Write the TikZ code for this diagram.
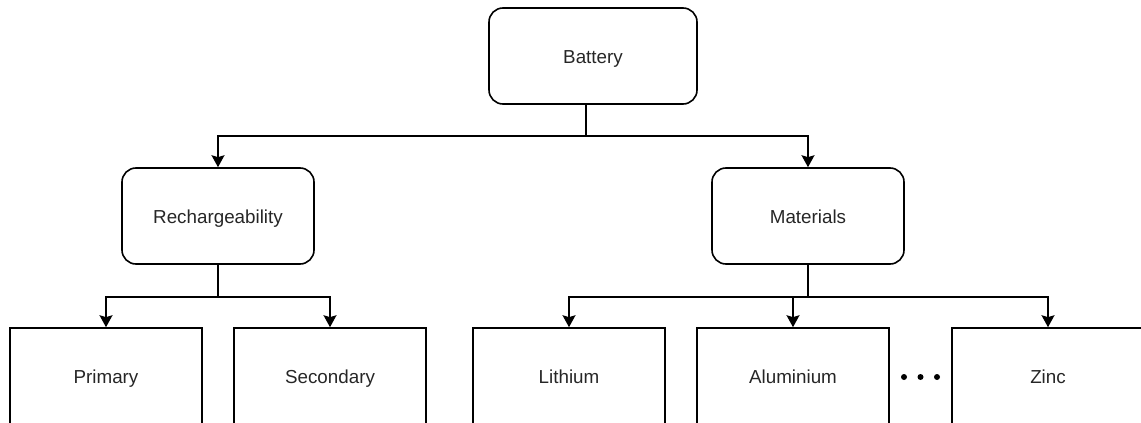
\documentclass[tikz,border=0pt]{standalone}
\usepackage{fontspec}
\setmainfont{Liberation Sans}
\usetikzlibrary{arrows.meta}
\begin{document}
\begin{tikzpicture}[x=0.5pt,y=-0.5pt,
  box/.style={draw=black,line width=0.8pt,inner sep=0pt,minimum width=96pt,minimum height=48pt,text height=9pt,text depth=2pt,font=\fontsize{9.4pt}{11pt}\selectfont,text=black!85},
  rbox/.style={box,rounded corners=7pt},
  conn/.style={draw=black,line width=0.8pt,-{Stealth[length=6pt,width=6.5pt,inset=1pt]}},
  dot/.style={circle,fill=black,inner sep=0pt,minimum size=3pt}]
\useasboundingbox (0,0) rectangle (1141,423);
\node[rbox,minimum width=104pt] (bat) at (593,56) {Battery};
\node[rbox] (rech) at (218,216) {Rechargeability};
\node[rbox] (mat) at (808,216) {Materials};
\node[box] (prim) at (106,376) {Primary};
\node[box] (sec) at (330,376) {Secondary};
\node[box] (lith) at (569,376) {Lithium};
\node[box] (alu) at (793,376) {Aluminium};
\node[box] (zinc) at (1048,376) {Zinc};
\node[dot] (d1) at (904,377) {};
\node[dot] (d2) at (920.5,377) {};
\node[dot] (d3) at (937,377) {};
\coordinate (bj) at (586,136);
\draw[line width=0.8pt] (bat.south -| bj) -- (bj);
\draw[conn] (bj) -| (rech.north);
\draw[conn] (bj) -| (mat.north);
\coordinate (rj) at (218,297);
\draw[line width=0.8pt] (rech.south) -- (rj);
\draw[conn] (rj) -| (prim.north);
\draw[conn] (rj) -| (sec.north);
\coordinate (mj) at (808,297);
\draw[line width=0.8pt] (mat.south) -- (mj);
\draw[conn] (mj) -| (lith.north);
\draw[conn] (mj) -| (alu.north);
\draw[conn] (mj) -| (zinc.north);
\end{tikzpicture}
\end{document}
